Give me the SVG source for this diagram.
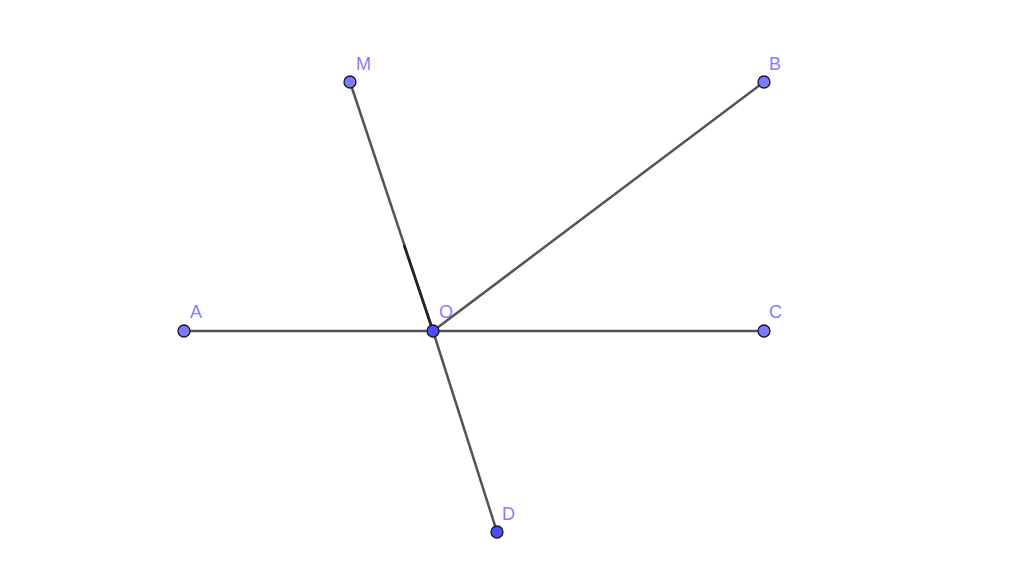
<svg xmlns="http://www.w3.org/2000/svg" width="1024" height="570" viewBox="0 0 1024 570">
<style>
.seg{stroke:#545454;stroke-width:2.5;fill:none;stroke-linecap:round}
.free{fill:#7b7bff;stroke:#1a1a1a;stroke-width:1.3}
.dep{fill:#4b4bff;stroke:#1a1a1a;stroke-width:1.3}
.lbl{font-family:"Liberation Sans",Arial,sans-serif;font-size:18px;fill:#7f7fff}
</style>
<rect width="1024" height="570" fill="#ffffff"/>
<g id="connectors">
<line class="seg" x1="184" y1="331" x2="764" y2="331"/>
<line class="seg" x1="350" y1="82" x2="433" y2="331"/>
<line class="seg" x1="433" y1="331" x2="497" y2="532"/>
<line class="seg" x1="433" y1="331" x2="764" y2="82"/>
<line x1="404" y1="245" x2="433" y2="331" stroke="#222" stroke-width="2.6"/>
</g>
<g id="A"><circle class="free" cx="184" cy="331" r="6"/><text class="lbl" x="190" y="318">A</text></g>
<g id="M"><circle class="free" cx="350" cy="82" r="6"/><text class="lbl" x="356" y="70">M</text></g>
<g id="B"><circle class="free" cx="764" cy="82" r="6"/><text class="lbl" x="769" y="70">B</text></g>
<g id="C"><circle class="free" cx="764" cy="331" r="6"/><text class="lbl" x="769" y="318">C</text></g>
<g id="O"><circle class="dep" cx="433" cy="331" r="6"/><text class="lbl" x="439" y="318">O</text></g>
<g id="D"><circle class="dep" cx="497" cy="532" r="6"/><text class="lbl" x="502" y="520">D</text></g>
</svg>
